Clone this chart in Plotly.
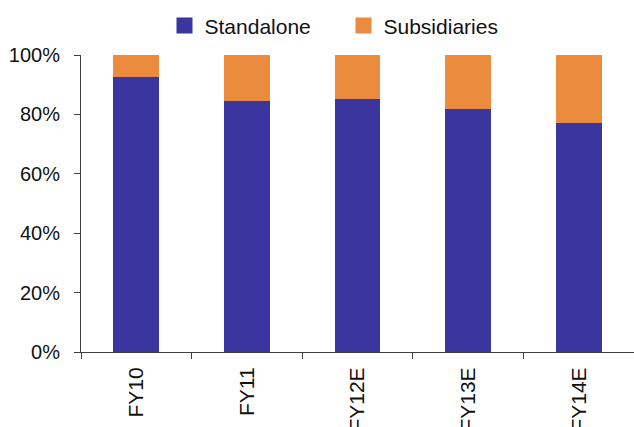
import plotly.graph_objects as go

# Revenue mix by year (% share)
years = ["FY10", "FY11", "FY12E", "FY13E", "FY14E"]
standalone = [92.6, 84.6, 85.2, 81.9, 77.1]
subsidiaries = [7.4, 15.4, 14.8, 18.1, 22.9]

BLUE = "#3B359F"
ORANGE = "#EB8B3E"
AXIS = "#404040"
FONT = "Arial, Liberation Sans, sans-serif"

fig = go.Figure()
fig.add_trace(go.Bar(x=years, y=[v / 100 for v in standalone], name="Standalone",
                     marker=dict(color=BLUE, line=dict(width=0)), showlegend=False))
fig.add_trace(go.Bar(x=years, y=[v / 100 for v in subsidiaries], name="Subsidiaries",
                     marker=dict(color=ORANGE, line=dict(width=0)), showlegend=False))

# legend keys drawn as larger squares
for name, col in [("Standalone", BLUE), ("Subsidiaries", ORANGE)]:
    fig.add_trace(go.Scatter(x=[None], y=[None], mode="markers", name=name,
                             marker=dict(symbol="square", size=16, color=col)))

fig.update_layout(
    width=634, height=427,
    margin=dict(l=81, r=0, t=55, b=75, autoexpand=False),
    barmode="stack", bargap=0.585,
    plot_bgcolor="white", paper_bgcolor="white",
    font=dict(family=FONT, size=20, color="#111111"),
    legend=dict(orientation="h", traceorder="normal", x=0.151, xanchor="left",
                y=1.098, yanchor="middle", entrywidth=134, entrywidthmode="pixels",
                font=dict(size=21), itemsizing="trace", bgcolor="rgba(0,0,0,0)"),
)
fig.update_xaxes(type="category", showline=True, linecolor=AXIS, linewidth=1,
                 ticks="outside", tickson="boundaries", ticklen=6, tickcolor=AXIS,
                 tickangle=-90, tickfont=dict(size=21), ticklabelstandoff=6,
                 showgrid=False, automargin=False)
fig.update_yaxes(range=[0, 1], dtick=0.2, tickformat=".0%", showline=True,
                 linecolor=AXIS, linewidth=1, ticks="outside", ticklen=6,
                 tickcolor=AXIS, showgrid=False, zeroline=False, automargin=False,
                 ticklabelstandoff=10)

fig.write_html("out.html")
